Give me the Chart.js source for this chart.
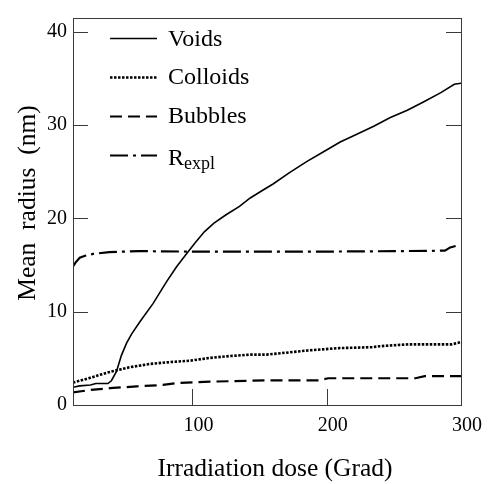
<!DOCTYPE html>
<html>
<head>
<meta charset="utf-8">
<script src="https://cdn.jsdelivr.net/npm/chart.js@4/dist/chart.umd.min.js"></script>
<style>
html,body{margin:0;padding:0;background:#fff;}
canvas{display:block;}
</style>
</head>
<body>
<canvas id="c" width="489" height="484"></canvas>
<script>
// ---- data ----
const voidsDose = [11, 16, 24, 28, 37, 39.6, 43.4, 47, 50.8, 54.6, 60.7, 70.7, 80.6, 88, 95, 102, 109, 116, 125, 135, 143, 152, 160, 172, 185, 197, 210, 222, 235, 247, 260, 272, 285, 295, 300];
const voidsR    = [1.9, 2.05, 2.15, 2.3, 2.3, 2.6, 3.6, 5.3, 6.6, 7.6, 8.9, 10.9, 13.2, 14.8, 16.1, 17.4, 18.6, 19.5, 20.4, 21.3, 22.2, 23.0, 23.7, 24.9, 26.1, 27.1, 28.2, 29.0, 29.9, 30.8, 31.6, 32.5, 33.5, 34.4, 34.5];

const colloidsDose = [11, 23.4, 38.4, 53.3, 68.2, 83.1, 98, 113, 128, 143, 155, 169, 186, 209, 234, 239, 261, 293, 300];
const colloidsR    = [2.4, 2.9, 3.55, 4.05, 4.4, 4.6, 4.75, 5.05, 5.25, 5.4, 5.4, 5.6, 5.85, 6.1, 6.2, 6.3, 6.5, 6.5, 6.75];

const bubblesDose = [11, 23.4, 38.4, 58.3, 78, 88, 113, 155, 194, 201, 266, 273, 300];
const bubblesR    = [1.35, 1.6, 1.8, 2.0, 2.15, 2.35, 2.5, 2.65, 2.65, 2.87, 2.87, 3.1, 3.1];

const rexplDose = [11, 13, 16, 20, 26, 38, 60, 100, 150, 200, 250, 288, 292, 296];
const rexplR    = [14.85, 15.3, 15.8, 16.0, 16.2, 16.4, 16.5, 16.45, 16.45, 16.45, 16.5, 16.55, 16.9, 17.05];

const seriesNames = ['Voids', 'Colloids', 'Bubbles', 'R'];
const xTicks = [100, 200, 300];
const yTicks = [0, 10, 20, 30, 40];
const xTitle = 'Irradiation dose (Grad)';
const yTitle = 'Mean  radius  (nm)';

const FAM = "'Liberation Serif', 'Times New Roman', serif";
const pts = (xs, ys) => xs.map((x, i) => ({x: x, y: ys[i]}));

const decor = {
  id: 'decor',
  afterDraw(chart) {
    const ctx = chart.ctx, a = chart.chartArea, xs = chart.scales.x, ys = chart.scales.y;
    ctx.save();
    // frame
    ctx.strokeStyle = '#3a3a3a';
    ctx.lineWidth = 1;
    ctx.setLineDash([]);
    ctx.strokeRect(Math.round(a.left) + 0.5, Math.round(a.top) + 0.5, Math.round(a.right - a.left), Math.round(a.bottom - a.top));
    // inward ticks
    ctx.beginPath();
    yTicks.forEach(v => {
      if (v === 0) return;
      const y = Math.round(ys.getPixelForValue(v)) + 0.5;
      ctx.moveTo(a.left, y); ctx.lineTo(a.left + 15, y);
      ctx.moveTo(a.right, y); ctx.lineTo(a.right - 15, y);
    });
    xTicks.forEach(v => {
      if (v >= 300) return;
      const x = Math.round(xs.getPixelForValue(v)) + 0.5;
      ctx.moveTo(x, a.bottom); ctx.lineTo(x, a.bottom - 16);
    });
    ctx.stroke();

    // axis titles
    ctx.fillStyle = '#000';
    ctx.font = '25.5px ' + FAM;
    ctx.textAlign = 'center';
    ctx.textBaseline = 'alphabetic';
    ctx.fillText(xTitle, 275, 476);
    ctx.save();
    ctx.translate(35, 203);
    ctx.rotate(-Math.PI / 2);
    ctx.fillText(yTitle, 0, 0);
    ctx.restore();

    // legend
    const lineY = [38.5, 77.5, 116.5, 155.5];
    const textY = [45.5, 84, 122.5, 165];
    chart.data.datasets.forEach((ds, i) => {
      ctx.beginPath();
      ctx.strokeStyle = ds.borderColor;
      ctx.lineWidth = ds.borderWidth;
      ctx.setLineDash(ds.borderDash || []);
      ctx.moveTo(110, lineY[i]);
      ctx.lineTo(157, lineY[i]);
      ctx.stroke();
      ctx.setLineDash([]);
      ctx.fillStyle = '#000';
      ctx.textAlign = 'left';
      ctx.font = '24px ' + FAM;
      ctx.fillText(seriesNames[i], 168, textY[i]);
      if (i === 3) {
        const w = ctx.measureText(seriesNames[i]).width;
        ctx.font = '18px ' + FAM;
        ctx.fillText('expl', 168 + w, textY[i] + 4);
      }
    });
    ctx.restore();
  }
};

new Chart(document.getElementById('c'), {
  type: 'line',
  data: {
    datasets: [
      {label: 'Voids', data: pts(voidsDose, voidsR), borderColor: '#000', borderWidth: 1.6, borderDash: [], pointRadius: 0, tension: 0, fill: false},
      {label: 'Colloids', data: pts(colloidsDose, colloidsR), borderColor: '#000', borderWidth: 2.6, borderDash: [2.5, 1.5], pointRadius: 0, tension: 0, fill: false},
      {label: 'Bubbles', data: pts(bubblesDose, bubblesR), borderColor: '#000', borderWidth: 2.2, borderDash: [12, 6], pointRadius: 0, tension: 0, fill: false},
      {label: 'Rexpl', data: pts(rexplDose, rexplR), borderColor: '#000', borderWidth: 2.2, borderDash: [18, 5, 3, 5], pointRadius: 0, tension: 0, fill: false}
    ]
  },
  options: {
    responsive: false,
    animation: false,
    events: [],
    layout: {padding: {top: 5, right: 28, left: 0, bottom: 0}},
    plugins: {legend: {display: false}, tooltip: {enabled: false}, title: {display: false}},
    scales: {
      x: {
        type: 'linear', min: 11, max: 300,
        afterBuildTicks: s => { s.ticks = xTicks.map(v => ({value: v})); },
        afterFit: s => { s.height = 79; },
        grid: {display: false, drawTicks: false},
        border: {display: false},
        ticks: {font: {family: FAM, size: 20}, color: '#000', padding: 9, labelOffset: 6, maxRotation: 0, autoSkip: false}
      },
      y: {
        type: 'linear', min: 0, max: 41.5,
        afterBuildTicks: s => { s.ticks = yTicks.map(v => ({value: v})); },
        afterFit: s => { s.width = 73; },
        grid: {display: false, drawTicks: false},
        border: {display: false},
        ticks: {font: {family: FAM, size: 20}, color: '#000', padding: 6}
      }
    }
  },
  plugins: [decor]
});
</script>
</body>
</html>
